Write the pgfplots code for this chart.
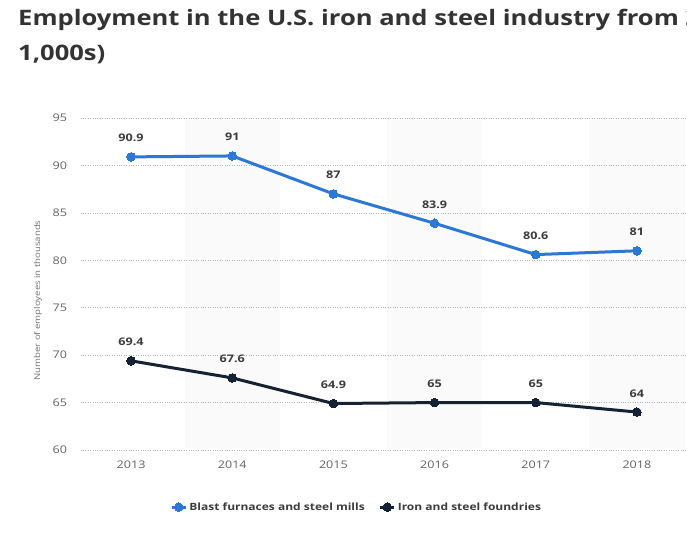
\documentclass[border=0pt]{standalone}
\usepackage{fontspec}
\setmainfont{Open Sans}[FakeStretch=1.2]
\usepackage{pgfplots}
\pgfplotsset{compat=1.18}

\definecolor{blastblue}{RGB}{44,120,214}
\definecolor{foundry}{RGB}{20,34,52}
\definecolor{ticklbl}{RGB}{100,100,100}
\definecolor{datalbl}{RGB}{60,60,60}
\definecolor{band}{RGB}{250,250,250}
\definecolor{titlec}{RGB}{51,51,51}

\pgfplotsset{/pgf/number format/assume math mode=true}

\begin{document}
\begin{tikzpicture}
\useasboundingbox (0pt,0pt) rectangle (687pt,541pt);
\fill[white] (0pt,0pt) rectangle (687pt,541pt);
% title, cut off at the right edge like the screenshot
\node[anchor=base west, inner sep=0, color=titlec, font=\fontsize{21.3}{26}\selectfont\bfseries]
  at (18pt,515pt) {Employment in the U.S. iron and steel industry from 2013 to 2018 (in};
\node[anchor=base west, inner sep=0, color=titlec, font=\fontsize{21.3}{26}\selectfont\bfseries]
  at (18pt,480pt) {1,000s)};
% light bands behind 2014, 2016, 2018
\fill[band] (184.7pt,93pt) rectangle (279.8pt,421pt);
\fill[band] (387.0pt,93pt) rectangle (482.1pt,421pt);
\fill[band] (589.4pt,93pt) rectangle (684.5pt,421pt);

\begin{axis}[
  at={(80.5pt,91pt)}, anchor=south west,
  scale only axis, width=607pt, height=332pt,
  xmin=-0.5, xmax=5.5, ymin=60, ymax=95,
  xtick={0,1,2,3,4,5},
  xticklabels={2013,2014,2015,2016,2017,2018},
  ytick={60,65,70,75,80,85,90,95},
  axis line style={draw=none},
  major tick length=0pt,
  ymajorgrids,
  grid style={dotted, color=black!30, line width=0.6pt},
  tick label style={font=\fontsize{10.5}{13}\selectfont, color=ticklbl},
  xticklabel style={yshift=-7pt},
  yticklabel style={xshift=-10pt},
  ylabel={Number of employees in thousands},
  every axis y label/.style={at={(axis description cs:-0.07,0.45)}, rotate=90, anchor=center,
    font=\fontsize{8}{10}\selectfont, color=black!55},
  nodes near coords,
  every node near coord/.append style={anchor=base, yshift=15pt, inner sep=0pt,
    font=\fontsize{10.5}{13}\selectfont\bfseries, color=datalbl},
  legend columns=2,
  legend style={at={(0.455,-0.172)}, anchor=center, draw=none, fill=none,
    font=\fontsize{10}{12}\selectfont\bfseries, text=datalbl,
    /tikz/every even column/.append style={column sep=12pt}},
  legend image code/.code={\draw[mark repeat=2, mark phase=2, #1]
    plot coordinates {(0pt,0pt) (7pt,0pt) (14pt,0pt)};},
]
\addplot[color=blastblue, line width=3pt, mark=*, mark size=4.3pt,
  mark options={line width=0pt}]
  coordinates {(0,90.9) (1,91) (2,87) (3,83.9) (4,80.6) (5,81)};
\addlegendentry{Blast furnaces and steel mills}

\addplot[color=foundry, line width=3pt, mark=*, mark size=4.3pt,
  mark options={line width=0pt}]
  coordinates {(0,69.4) (1,67.6) (2,64.9) (3,65) (4,65) (5,64)};
\addlegendentry{Iron and steel foundries}
\end{axis}
\end{tikzpicture}
\end{document}
